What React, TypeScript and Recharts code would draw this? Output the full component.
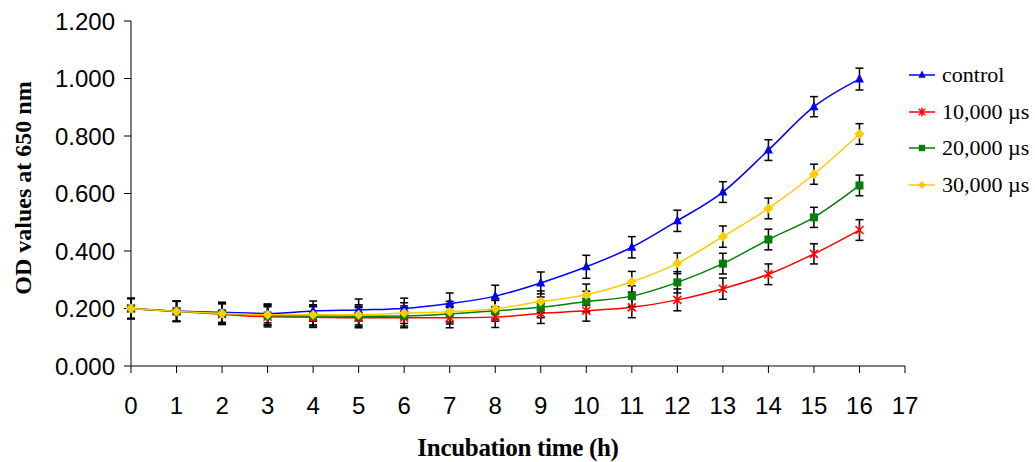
import { CartesianGrid, ErrorBar, Legend, Line, LineChart, XAxis, YAxis } from 'recharts';

const hours = [0, 1, 2, 3, 4, 5, 6, 7, 8, 9, 10, 11, 12, 13, 14, 15, 16];

const control = [0.2, 0.191, 0.187, 0.183, 0.191, 0.195, 0.2, 0.217, 0.243, 0.289, 0.345, 0.413, 0.505, 0.605, 0.751, 0.902, 0.998];
const controlErr = [0.035, 0.035, 0.035, 0.033, 0.035, 0.038, 0.036, 0.037, 0.038, 0.038, 0.04, 0.037, 0.037, 0.036, 0.036, 0.035, 0.038];

const us10000 = [0.2, 0.19, 0.18, 0.171, 0.17, 0.168, 0.168, 0.168, 0.17, 0.183, 0.192, 0.204, 0.23, 0.269, 0.319, 0.39, 0.473];
const us10000Err = [0.035, 0.035, 0.036, 0.035, 0.036, 0.035, 0.035, 0.035, 0.036, 0.035, 0.036, 0.036, 0.038, 0.037, 0.036, 0.035, 0.036];

const us20000 = [0.2, 0.19, 0.184, 0.176, 0.174, 0.173, 0.174, 0.181, 0.192, 0.204, 0.224, 0.243, 0.291, 0.356, 0.44, 0.517, 0.628];
const us20000Err = [0.035, 0.035, 0.035, 0.034, 0.035, 0.035, 0.035, 0.035, 0.036, 0.036, 0.036, 0.036, 0.037, 0.036, 0.036, 0.035, 0.036];

const us30000 = [0.2, 0.19, 0.183, 0.178, 0.178, 0.178, 0.184, 0.189, 0.199, 0.224, 0.248, 0.293, 0.357, 0.45, 0.548, 0.667, 0.807];
const us30000Err = [0.035, 0.035, 0.035, 0.035, 0.035, 0.035, 0.036, 0.036, 0.036, 0.037, 0.037, 0.036, 0.036, 0.037, 0.036, 0.035, 0.036];

const xTicks = [0, 1, 2, 3, 4, 5, 6, 7, 8, 9, 10, 11, 12, 13, 14, 15, 16, 17];
const yTicks = [0, 0.2, 0.4, 0.6, 0.8, 1.0, 1.2];

const data = hours.map((h, i) => ({
  h,
  control: control[i],
  controlErr: controlErr[i],
  us10000: us10000[i],
  us10000Err: us10000Err[i],
  us20000: us20000[i],
  us20000Err: us20000Err[i],
  us30000: us30000[i],
  us30000Err: us30000Err[i],
}));

type Shape = 'triangle' | 'star' | 'square' | 'diamond';

const series: Array<{ key: string; name: string; color: string; shape: Shape }> = [
  { key: 'control', name: 'control', color: '#0000ff', shape: 'triangle' },
  { key: 'us10000', name: '10,000 µs', color: '#ff0000', shape: 'star' },
  { key: 'us20000', name: '20,000 µs', color: '#008000', shape: 'square' },
  { key: 'us30000', name: '30,000 µs', color: '#ffcc00', shape: 'diamond' },
];

const Marker = ({ cx, cy, shape, color, s = 1 }: { cx: number; cy: number; shape: Shape; color: string; s?: number }) => {
  if (shape === 'triangle') {
    return <polygon points={`${cx},${cy - 5.5 * s} ${cx - 4.5 * s},${cy + 3.5 * s} ${cx + 4.5 * s},${cy + 3.5 * s}`} fill={color} />;
  }
  if (shape === 'square') {
    return <rect x={cx - 4 * s} y={cy - 4 * s} width={8 * s} height={8 * s} fill={color} />;
  }
  if (shape === 'diamond') {
    return <polygon points={`${cx},${cy - 5 * s} ${cx + 5 * s},${cy} ${cx},${cy + 5 * s} ${cx - 5 * s},${cy}`} fill={color} />;
  }
  const r = 4 * s;
  return (
    <g stroke={color} strokeWidth={1.5}>
      <line x1={cx - r} y1={cy - r} x2={cx + r} y2={cy + r} />
      <line x1={cx - r} y1={cy + r} x2={cx + r} y2={cy - r} />
      <line x1={cx} y1={cy - r - 1} x2={cx} y2={cy + r + 1} />
    </g>
  );
};

const makeDot = (shape: Shape, color: string) => (props: any) => (
  <Marker key={`${shape}-${props.index}`} cx={props.cx} cy={props.cy} shape={shape} color={color} />
);

const LegendBox = () => (
  <div style={{ fontFamily: '"Liberation Serif", serif', fontSize: 22, color: '#000' }}>
    {series.map((s) => (
      <div key={s.key} style={{ display: 'flex', alignItems: 'center', height: 36.5 }}>
        <svg width={33} height={14} style={{ display: 'block' }}>
          <line x1={0} y1={7} x2={26} y2={7} stroke={s.color} strokeWidth={1.5} />
          <Marker cx={13} cy={7} shape={s.shape} color={s.color} s={0.8} />
        </svg>
        <span style={{ whiteSpace: 'nowrap' }}>{s.name}</span>
      </div>
    ))}
  </div>
);

const tickStyle = { fontFamily: '"Liberation Sans", Arial, sans-serif', fontSize: 24, fill: '#000' };

export default function App() {
  return (
    <div style={{ position: 'absolute', left: 0, top: 0, background: '#fff' }}>
      <LineChart width={1035} height={462} data={data} margin={{ top: 21, right: 130, bottom: 0, left: 0 }}>
        <CartesianGrid stroke="none" />
        <XAxis
          dataKey="h"
          type="number"
          domain={[0, 17]}
          ticks={xTicks}
          interval={0}
          height={96}
          tickSize={7}
          tickMargin={24}
          stroke="#000"
          tick={tickStyle}
          label={{
            content: () => (
              <text x={518} y={456} textAnchor="middle" fontFamily='"Liberation Serif", serif' fontWeight="bold" fontSize={25} letterSpacing={-0.3} fill="#000">
                Incubation time (h)
              </text>
            ),
          }}
        />
        <YAxis
          type="number"
          domain={[0, 1.2]}
          ticks={yTicks}
          width={131}
          tickSize={7}
          tickMargin={9}
          stroke="#000"
          tick={tickStyle}
          tickFormatter={(v: number) => v.toFixed(3)}
          label={{
            content: () => (
              <text x={31} y={188} transform="rotate(-90 31 188)" textAnchor="middle" fontFamily='"Liberation Serif", serif' fontWeight="bold" fontSize={24} fill="#000">
                OD values at 650 nm
              </text>
            ),
          }}
        />
        <Legend
          layout="horizontal"
          align="center"
          verticalAlign="middle"
          content={() => <LegendBox />}
          wrapperStyle={{ left: 909, top: 57, width: 126 }}
        />
        {series.map((s) => (
          <Line
            key={s.key}
            dataKey={s.key}
            name={s.name}
            type="monotone"
            stroke={s.color}
            strokeWidth={1.5}
            dot={makeDot(s.shape, s.color)}
            activeDot={false}
            isAnimationActive={false}
          >
            <ErrorBar dataKey={`${s.key}Err`} direction="y" width={4} stroke="#000" strokeWidth={1.5} isAnimationActive={false} />
          </Line>
        ))}
      </LineChart>
    </div>
  );
}
